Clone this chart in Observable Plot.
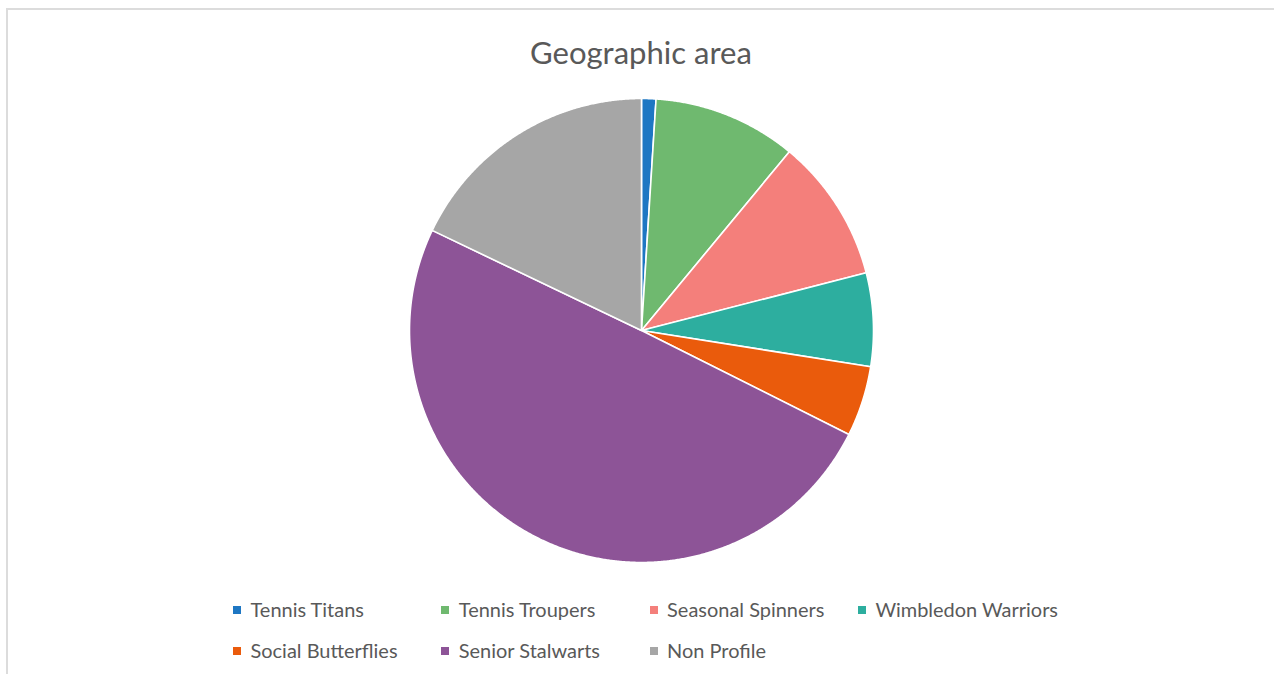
<!DOCTYPE html>
<html>
<head>
<meta charset="utf-8">
<script src="https://cdn.jsdelivr.net/npm/d3@7"></script>
<script src="https://cdn.jsdelivr.net/npm/@observablehq/plot@0.6"></script>
<style>
  html, body { margin: 0; padding: 0; background: #fff; }
  #wrap { position: relative; width: 1274px; height: 674px; overflow: hidden; font-family: Lato, "Open Sans", sans-serif; color: #595959; }
  #frame { position: absolute; left: 6px; top: 8px; right: -10px; bottom: -10px; border-top: 2px solid #dcdcdc; border-left: 2px solid #dcdcdc; }
  #title { position: absolute; left: 4px; width: 1274px; text-align: center; white-space: nowrap; }
  #chart { position: absolute; left: 0; top: 90px; }
  .item { position: absolute; white-space: nowrap; }
  .sw { position: absolute; width: 8px; height: 8px; }
</style>
</head>
<body>
<div id="wrap">
  <div id="frame"></div>
  <div id="title">Geographic area</div>
  <div id="chart"></div>
  <div id="legend"></div>
</div>
<script>
const titleText = "Geographic area";
const categories = ["Tennis Titans", "Tennis Troupers", "Seasonal Spinners", "Wimbledon Warriors", "Social Butterflies", "Senior Stalwarts", "Non Profile"];
const values = [1.0, 10.0, 10.0, 6.5, 4.9, 49.7, 17.9];
const colors = ["#1E77C3", "#6FB96F", "#F47F7B", "#2DAE9F", "#EA5B0C", "#8D5497", "#A6A6A6"];

// pie geometry from data
const arcs = d3.pie().sort(null).value(d => d)(values);
const pts = [];
arcs.forEach((a, i) => {
  const name = categories[i];
  pts.push({name, x: 0, y: 0});
  const n = Math.max(2, Math.ceil((a.endAngle - a.startAngle) / 0.005));
  for (let k = 0; k <= n; k++) {
    const t = a.startAngle + (a.endAngle - a.startAngle) * k / n;
    pts.push({name, x: Math.sin(t), y: Math.cos(t)});
  }
  pts.push({name, x: 0, y: 0});
});

const R = 232, W = 1274, H = 480, cx = 641, cy = 240;
const chart = Plot.plot({
  width: W, height: H,
  marginTop: 0, marginRight: 0, marginBottom: 0, marginLeft: 0,
  x: {axis: null, domain: [-cx / R, (W - cx) / R]},
  y: {axis: null, domain: [-(H - cy) / R, cy / R]},
  color: {domain: categories, range: colors},
  marks: [
    Plot.line(pts, {x: "x", y: "y", z: "name", fill: "name", stroke: "white", strokeWidth: 1.6, curve: "linear"})
  ]
});
document.getElementById("chart").appendChild(chart);

// font fitting
const ctx = document.createElement("canvas").getContext("2d");
function fit(text, target, fam) {
  ctx.font = `100px ${fam}`;
  return 100 * target / ctx.measureText(text).width;
}
const fam = "Lato";
const tSize = fit(titleText, 222, fam);
const title = document.getElementById("title");
title.style.fontSize = tSize + "px";
title.style.lineHeight = tSize + "px";
title.style.top = (62 - tSize * 0.8) + "px";

const lSize = fit("Wimbledon Warriors", 183, fam);
const legend = document.getElementById("legend");
categories.forEach((c, i) => {
  const row = Math.floor(i / 4), col = i % 4;
  const left = 233 + col * 208.3;
  const base = 616 + row * 41;
  const sw = document.createElement("div");
  sw.className = "sw";
  sw.style.background = colors[i];
  sw.style.left = left + "px";
  sw.style.top = (base - 10.5) + "px";
  legend.appendChild(sw);
  const it = document.createElement("div");
  it.className = "item";
  it.textContent = c;
  it.style.fontSize = lSize + "px";
  it.style.lineHeight = lSize + "px";
  it.style.left = (left + 17.5) + "px";
  it.style.top = (base - lSize * 0.8) + "px";
  legend.appendChild(it);
});
</script>
</body>
</html>
